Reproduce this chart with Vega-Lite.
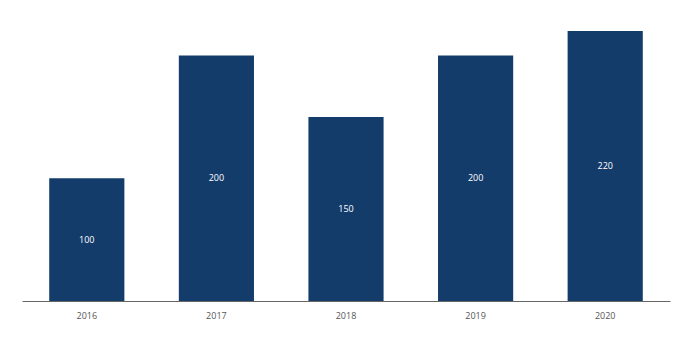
{
  "$schema": "https://vega.github.io/schema/vega-lite/v6.json",
  "autosize": {"type": "none"},
  "width": 648,
  "height": 270,
  "padding": {"left": 22, "top": 31, "right": 20, "bottom": 37},
  "background": "white",
  "config": {"view": {"stroke": null}, "font": "Open Sans"},
  "data": {"values": [
    {"year": "2016", "value": 100},
    {"year": "2017", "value": 200},
    {"year": "2018", "value": 150},
    {"year": "2019", "value": 200},
    {"year": "2020", "value": 220}
  ]},
  "encoding": {
    "x": {"field": "year", "type": "ordinal", "scale": {"paddingInner": 0.42, "paddingOuter": 0.21},
      "axis": {"title": null, "labelAngle": 0, "ticks": false, "domainColor": "#666", "domainWidth": 1, "labelColor": "#555", "labelFontSize": 9, "labelPadding": 10}}
  },
  "layer": [
    {"mark": {"type": "bar", "color": "#143c6b"},
     "encoding": {"y": {"field": "value", "type": "quantitative", "scale": {"domain": [0, 220], "nice": false}, "axis": null}}},
    {"transform": [{"calculate": "datum.value / 2", "as": "labelPos"}],
     "mark": {"type": "text", "color": "white", "fontSize": 9, "baseline": "middle"},
     "encoding": {"y": {"field": "labelPos", "type": "quantitative"}, "text": {"field": "value", "type": "quantitative"}}}
  ]
}
